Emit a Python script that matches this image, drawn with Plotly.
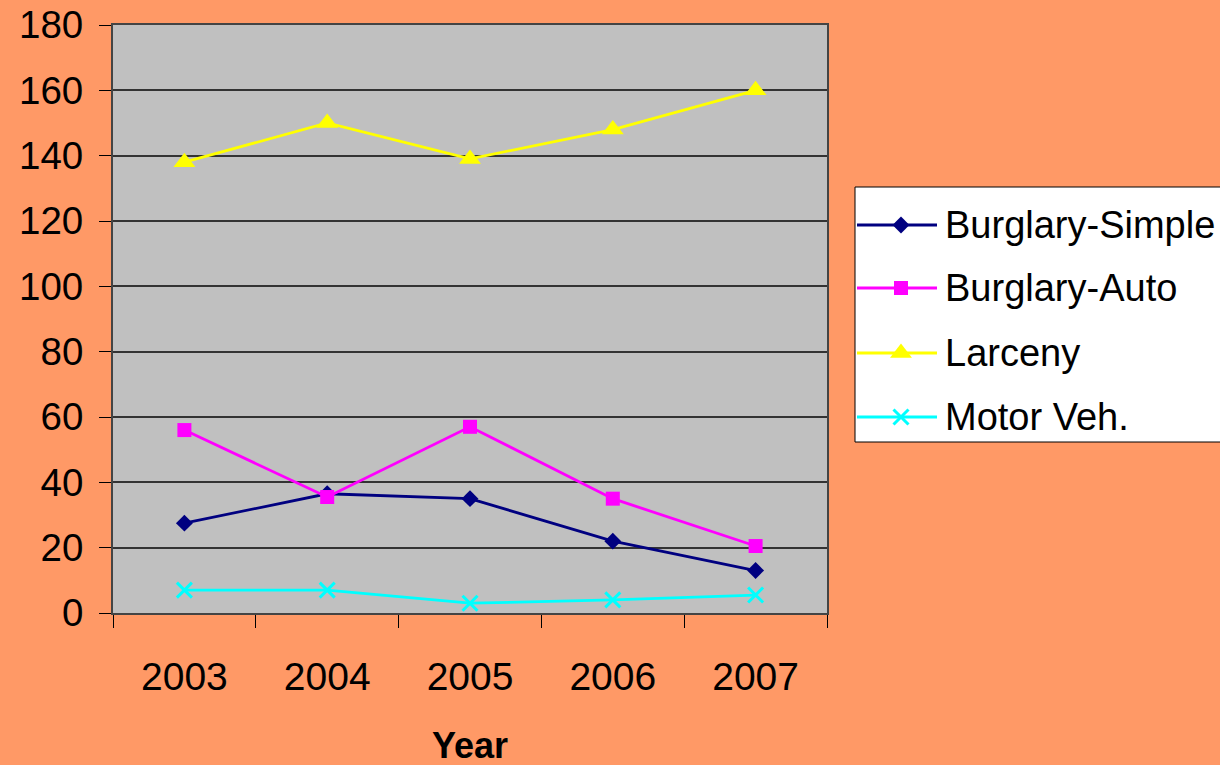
import plotly.graph_objects as go

years = ["2003", "2004", "2005", "2006", "2007"]
burglary_simple = [27.5, 36.5, 35, 22, 13]
burglary_auto = [56, 35.5, 57, 35, 20.5]
larceny = [138, 150, 139, 148, 160]
motor_veh = [7, 7, 3, 4, 5.5]
series_names = ["Burglary-Simple", "Burglary-Auto", "Larceny", "Motor Veh."]
y_ticks = [0, 20, 40, 60, 80, 100, 120, 140, 160, 180]

W, H = 1220, 765
PL, PR, PT, PB = 113, 827, 25, 613

styles = [
    dict(color="#000080", symbol="diamond", size=13),
    dict(color="#FF00FF", symbol="square", size=14),
    dict(color="#FFFF00", symbol="triangle-up", size=19),
    dict(color="#00FFFF", symbol="x-thin", size=15),
]
values = [burglary_simple, burglary_auto, larceny, motor_veh]


def make_marker(st):
    m = dict(color=st["color"], symbol=st["symbol"], size=st["size"])
    if st["symbol"] == "x-thin":
        m["line"] = dict(color=st["color"], width=3)
    else:
        m["line"] = dict(width=0)
    return m


fig = go.Figure()
for name, vals, st in zip(series_names, values, styles):
    fig.add_trace(go.Scatter(
        x=years, y=vals, name=name, mode="lines+markers",
        line=dict(color=st["color"], width=2.8), marker=make_marker(st),
        xaxis="x", yaxis="y", showlegend=False, cliponaxis=False,
    ))

# manual legend (pixel coordinate overlay axes)
leg_rows = [225, 288, 353, 417]
for name, st, ry in zip(series_names, styles, leg_rows):
    fig.add_trace(go.Scatter(
        x=[857, 937], y=[ry, ry], mode="lines", line=dict(color=st["color"], width=2.8),
        xaxis="x2", yaxis="y2", showlegend=False, hoverinfo="skip",
    ))
    fig.add_trace(go.Scatter(
        x=[901], y=[ry], mode="markers", marker=make_marker(st),
        xaxis="x2", yaxis="y2", showlegend=False, hoverinfo="skip",
    ))
    fig.add_annotation(
        x=943 / W, y=1 - ry / H, xref="paper", yref="paper", text=name,
        showarrow=False, xanchor="left", yanchor="middle",
        font=dict(family="Arial, Liberation Sans", size=38, color="black"),
    )

fig.add_shape(type="rect", xref="paper", yref="paper",
              x0=855 / W, x1=1.05, y0=1 - 442 / H, y1=1 - 187 / H,
              fillcolor="white", line=dict(color="black", width=1), layer="below")

fig.add_shape(type="rect", xref="x domain", yref="y domain", x0=0, x1=1, y0=0, y1=1,
              fillcolor="#C0C0C0", line=dict(width=0), layer="below")

fig.add_annotation(
    x=((PL + PR) / 2) / W, y=1 - 745 / H, xref="paper", yref="paper", text="<b>Year</b>",
    showarrow=False, xanchor="center", yanchor="middle",
    font=dict(family="Arial, Liberation Sans", size=36, color="black"),
)

xfont = dict(family="Arial, Liberation Sans", size=39, color="black")
yfont = dict(family="Arial, Liberation Sans", size=38.5, color="black")
fig.update_layout(
    width=W, height=H,
    margin=dict(l=0, r=0, t=0, b=0, autoexpand=False),
    paper_bgcolor="#FF9966", plot_bgcolor="rgba(0,0,0,0)",
    showlegend=False,
    xaxis=dict(
        domain=[PL / W, PR / W], type="category", tickson="boundaries",
        range=[-0.5, len(years) - 0.5],
        ticks="outside", ticklen=13, tickwidth=1, tickcolor="black",
        showline=True, linecolor="#444", linewidth=2, mirror=True,
        showgrid=False, tickfont=xfont, ticklabelstandoff=28, anchor="y",
        fixedrange=True, automargin=False,
    ),
    yaxis=dict(
        domain=[1 - PB / H, 1 - PT / H], range=[0, 180], tickvals=y_ticks,
        ticks="outside", ticklen=12, tickwidth=1, tickcolor="black",
        showline=True, linecolor="#444", linewidth=2, mirror=True,
        showgrid=True, gridcolor="#333", gridwidth=1.5, zeroline=False,
        tickfont=yfont, ticklabelstandoff=8, anchor="x", fixedrange=True,
        automargin=False,
    ),
    xaxis2=dict(domain=[0, 1], range=[0, W], visible=False, anchor="y2",
                fixedrange=True, automargin=False),
    yaxis2=dict(domain=[0, 1], range=[H, 0], visible=False, anchor="x2",
                fixedrange=True, automargin=False),
)

fig.write_html(
    "out.html",
    config={"displayModeBar": False},
    post_script="document.body.style.margin='0';document.body.style.overflow='hidden';",
)
